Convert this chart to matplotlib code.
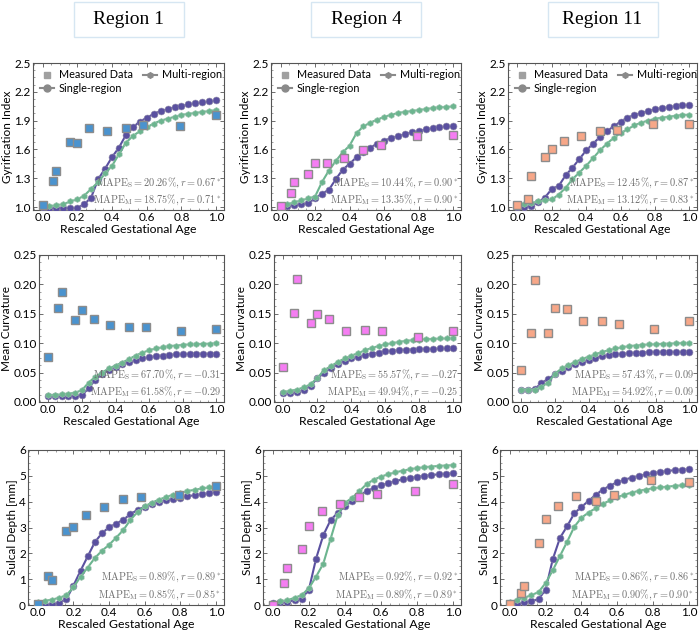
import matplotlib
matplotlib.use("Agg")
from matplotlib import pyplot as plt
from matplotlib.lines import Line2D
from matplotlib.patches import Rectangle
from matplotlib.ticker import AutoMinorLocator
import numpy as np

plt.rcParams["font.family"] = ["Lato", "DejaVu Sans"]
plt.rcParams["mathtext.fontset"] = "cm"

regions = ["Region 1", "Region 4", "Region 11"]

# x grid of model curves and measured ages
t_model = [0.0, 0.04, 0.08, 0.12, 0.16, 0.2, 0.24, 0.28, 0.32, 0.36, 0.4, 0.44, 0.48,
           0.52, 0.56, 0.6, 0.64, 0.68, 0.72, 0.76, 0.8, 0.84, 0.88, 0.92, 0.96, 1.0]
t_meas = [0.0, 0.06, 0.08, 0.16, 0.2, 0.27, 0.37, 0.48, 0.58, 0.79, 1.0]

# Gyrification index
gi_meas_r1 = [1.02, 1.27, 1.38, 1.68, 1.67, 1.82, 1.79, 1.82, 1.85, 1.84, 1.96]
gi_meas_r4 = [1.01, 1.15, 1.26, 1.34, 1.46, 1.46, 1.51, 1.59, 1.65, 1.74, 1.75]
gi_meas_r11 = [1.02, 1.08, 1.32, 1.52, 1.60, 1.69, 1.74, 1.79, 1.80, 1.87, 1.87]
gi_single_r1 = [1.0, 0.99, 0.99, 0.99, 0.99, 0.99, 1.03, 1.10, 1.29, 1.40, 1.52, 1.62, 1.75,
                1.83, 1.89, 1.93, 1.97, 2.0, 2.02, 2.04, 2.05, 2.07, 2.08, 2.09, 2.10, 2.11]
gi_multi_r1 = [1.01, 1.01, 1.02, 1.03, 1.06, 1.08, 1.12, 1.19, 1.26, 1.35, 1.43, 1.55, 1.67,
               1.74, 1.79, 1.83, 1.87, 1.90, 1.92, 1.94, 1.96, 1.97, 1.98, 1.99, 2.00, 2.01]
gi_single_r4 = [1.0, 1.01, 1.02, 1.03, 1.04, 1.09, 1.14, 1.18, 1.29, 1.39, 1.45, 1.52, 1.57,
                1.62, 1.66, 1.69, 1.72, 1.74, 1.76, 1.78, 1.79, 1.81, 1.82, 1.83, 1.84, 1.84]
gi_multi_r4 = [1.01, 1.03, 1.05, 1.07, 1.09, 1.11, 1.26, 1.38, 1.48, 1.57, 1.64, 1.77, 1.84,
               1.88, 1.91, 1.94, 1.96, 1.98, 1.99, 2.00, 2.01, 2.02, 2.03, 2.04, 2.04, 2.05]
gi_single_r11 = [1.0, 1.0, 1.01, 1.05, 1.10, 1.19, 1.22, 1.33, 1.41, 1.50, 1.59, 1.66, 1.73,
                 1.79, 1.84, 1.89, 1.93, 1.96, 1.98, 2.00, 2.02, 2.03, 2.04, 2.05, 2.06, 2.06]
gi_multi_r11 = [1.02, 1.03, 1.04, 1.06, 1.07, 1.08, 1.13, 1.20, 1.29, 1.36, 1.43, 1.51, 1.59,
                1.66, 1.72, 1.77, 1.81, 1.85, 1.88, 1.90, 1.92, 1.93, 1.94, 1.95, 1.96, 1.96]

# Mean curvature
mc_meas_r1 = [0.076, 0.160, 0.187, 0.139, 0.156, 0.141, 0.131, 0.127, 0.128, 0.120, 0.125]
mc_meas_r4 = [0.060, 0.151, 0.210, 0.135, 0.149, 0.141, 0.121, 0.122, 0.121, 0.111, 0.121]
mc_meas_r11 = [0.055, 0.117, 0.208, 0.118, 0.160, 0.159, 0.137, 0.137, 0.132, 0.125, 0.137]
mc_single_r1 = [0.010, 0.010, 0.010, 0.010, 0.010, 0.012, 0.023, 0.038, 0.047, 0.054, 0.059, 0.064, 0.068,
                0.071, 0.074, 0.076, 0.078, 0.079, 0.080, 0.081, 0.081, 0.082, 0.082, 0.082, 0.082, 0.082]
mc_multi_r1 = [0.012, 0.012, 0.013, 0.014, 0.016, 0.020, 0.033, 0.043, 0.050, 0.057, 0.062, 0.067, 0.073,
               0.079, 0.084, 0.088, 0.091, 0.093, 0.095, 0.096, 0.097, 0.098, 0.098, 0.099, 0.099, 0.100]
mc_single_r4 = [0.015, 0.015, 0.017, 0.020, 0.028, 0.040, 0.050, 0.057, 0.064, 0.070, 0.074, 0.077, 0.080,
                0.082, 0.084, 0.086, 0.087, 0.088, 0.089, 0.089, 0.090, 0.090, 0.090, 0.091, 0.091, 0.091]
mc_multi_r4 = [0.017, 0.019, 0.021, 0.025, 0.030, 0.041, 0.054, 0.061, 0.068, 0.074, 0.079, 0.083, 0.088,
               0.092, 0.095, 0.098, 0.100, 0.102, 0.104, 0.105, 0.106, 0.107, 0.107, 0.108, 0.108, 0.108]
mc_single_r11 = [0.021, 0.021, 0.022, 0.032, 0.039, 0.047, 0.053, 0.059, 0.064, 0.068, 0.072, 0.075, 0.078,
                 0.080, 0.081, 0.082, 0.083, 0.084, 0.084, 0.085, 0.085, 0.085, 0.085, 0.085, 0.085, 0.085]
mc_multi_r11 = [0.021, 0.021, 0.021, 0.026, 0.033, 0.048, 0.057, 0.063, 0.068, 0.073, 0.077, 0.081, 0.085,
                0.088, 0.091, 0.093, 0.095, 0.096, 0.097, 0.098, 0.098, 0.099, 0.099, 0.100, 0.100, 0.100]

# Sulcal depth
sd_meas_r1 = [0.05, 1.12, 0.97, 2.88, 3.02, 3.50, 3.80, 4.10, 4.20, 4.27, 4.60]
sd_meas_r4 = [0.0, 0.85, 1.45, 2.15, 3.07, 3.62, 3.92, 4.17, 4.30, 4.42, 4.68]
sd_meas_r11 = [0.02, 0.48, 0.73, 2.40, 3.33, 3.83, 4.22, 4.02, 4.25, 4.82, 4.78]
sd_single_r1 = [0.0, 0.0, 0.03, 0.08, 0.22, 0.75, 1.33, 1.88, 2.43, 2.78, 3.01, 3.15, 3.30,
                3.52, 3.68, 3.80, 3.90, 3.98, 4.05, 4.10, 4.16, 4.21, 4.25, 4.29, 4.33, 4.37]
sd_multi_r1 = [0.12, 0.16, 0.21, 0.28, 0.38, 0.68, 1.10, 1.45, 1.82, 2.10, 2.33, 2.61, 2.90,
               3.30, 3.60, 3.82, 3.96, 4.08, 4.18, 4.27, 4.34, 4.41, 4.46, 4.51, 4.55, 4.58]
sd_single_r4 = [0.08, 0.10, 0.13, 0.18, 0.24, 0.60, 1.80, 2.70, 3.28, 3.57, 3.82, 4.03, 4.23,
                4.40, 4.53, 4.63, 4.72, 4.80, 4.86, 4.91, 4.96, 5.00, 5.03, 5.06, 5.08, 5.10]
sd_multi_r4 = [0.05, 0.15, 0.18, 0.28, 0.38, 0.65, 1.10, 1.60, 2.55, 3.48, 3.95, 4.15, 4.40,
               4.68, 4.85, 4.97, 5.06, 5.13, 5.20, 5.25, 5.30, 5.33, 5.36, 5.38, 5.40, 5.41]
sd_single_r11 = [0.0, 0.02, 0.10, 0.16, 0.22, 0.60, 1.78, 2.60, 3.05, 3.55, 3.80, 4.03, 4.27,
                 4.47, 4.62, 4.75, 4.85, 4.93, 5.00, 5.06, 5.11, 5.15, 5.19, 5.22, 5.24, 5.25]
sd_multi_r11 = [0.10, 0.20, 0.28, 0.38, 0.50, 0.85, 1.35, 1.90, 2.45, 3.03, 3.38, 3.58, 3.75,
                3.92, 4.05, 4.17, 4.27, 4.35, 4.42, 4.47, 4.52, 4.55, 4.58, 4.61, 4.63, 4.65]

meas = [[gi_meas_r1, gi_meas_r4, gi_meas_r11],
        [mc_meas_r1, mc_meas_r4, mc_meas_r11],
        [sd_meas_r1, sd_meas_r4, sd_meas_r11]]
single = [[gi_single_r1, gi_single_r4, gi_single_r11],
          [mc_single_r1, mc_single_r4, mc_single_r11],
          [sd_single_r1, sd_single_r4, sd_single_r11]]
multi = [[gi_multi_r1, gi_multi_r4, gi_multi_r11],
         [mc_multi_r1, mc_multi_r4, mc_multi_r11],
         [sd_multi_r1, sd_multi_r4, sd_multi_r11]]

mape_s = [["20.26", "10.44", "12.45"], ["67.70", "55.57", "57.43"], ["0.89", "0.92", "0.86"]]
r_s = [["0.67^*", "0.90^*", "0.87^*"], ["-0.31", "-0.27", "0.09"], ["0.89^*", "0.92^*", "0.86^*"]]
mape_m = [["18.75", "13.35", "13.12"], ["61.58", "49.94", "54.92"], ["0.85", "0.89", "0.90"]]
r_m = [["0.71^*", "0.90^*", "0.83^*"], ["-0.29", "-0.25", "0.09"], ["0.85^*", "0.89^*", "0.90^*"]]

ylabels = ["Gyrification Index", "Mean Curvature", "Sulcal Depth [mm]"]
ylims = [(0.97, 2.5), (0.0, 0.25), (0.0, 6.0)]
yticks = [[1.0, 1.3, 1.6, 1.9, 2.2, 2.5],
          [0.0, 0.05, 0.10, 0.15, 0.20, 0.25],
          [0, 1, 2, 3, 4, 5, 6]]
yfmt = ["{:.1f}", "{:.2f}", "{:.0f}"]

meas_colors = ["#4a93cf", "#f57df2", "#f7a788"]
c_single = "#5a50a0"
c_multi = "#6cb58f"

W, H = 700, 635
fig = plt.figure(figsize=(7, 6.35), dpi=100)

# axes boxes in pixels (left, right) per row, (top, bottom) per row
lefts = [[33, 271, 508], [39, 274, 512], [28, 263, 500]]
rights = [224, 461, 697]
tb = [(63, 210), (255, 402), (450, 605)]

for i in range(3):
    for j in range(3):
        l, r = lefts[i][j], rights[j]
        t, b = tb[i]
        ax = fig.add_axes([l / W, 1 - b / H, (r - l) / W, (b - t) / H])
        ax.plot(t_model, single[i][j], "-o", color=c_single, lw=1.5, ms=5,
                mec="#8f8aa8", mew=0.4, zorder=3)
        ax.plot(t_model, multi[i][j], "-h", color=c_multi, lw=1.5, ms=4.4,
                mec="#9fc2b0", mew=0.4, zorder=3)
        ax.plot(t_meas, meas[i][j], "s", color=meas_colors[j], ms=5.5,
                mec="#8c8c8c", mew=1.0, ls="none", zorder=4)
        ax.set_xlim(-0.055, 1.045)
        ax.set_ylim(*ylims[i])
        ax.set_xticks([0.0, 0.2, 0.4, 0.6, 0.8, 1.0])
        ax.set_xticklabels(["{:.1f}".format(v) for v in [0.0, 0.2, 0.4, 0.6, 0.8, 1.0]])
        ax.set_yticks(yticks[i])
        ax.set_yticklabels([yfmt[i].format(v) for v in yticks[i]])
        ax.xaxis.set_minor_locator(AutoMinorLocator(4))
        ax.yaxis.set_minor_locator(AutoMinorLocator(4))
        ax.tick_params(which="both", direction="in", top=True, right=True,
                       labelsize=8.5, color="#555555", pad=1.5)
        ax.tick_params(which="major", length=3, width=0.6)
        ax.tick_params(which="minor", length=1.6, width=0.4)
        for s in ax.spines.values():
            s.set_color("#555555")
            s.set_linewidth(0.8)
        ax.set_xlabel("Rescaled Gestational Age", fontsize=8.8, labelpad=1)
        ax.set_ylabel(ylabels[i], fontsize=8.5, labelpad=1)

        txt = (r"$\mathrm{MAPE}_\mathrm{S} = " + mape_s[i][j] + r"\%, r = " + r_s[i][j] + "$\n"
               + r"$\mathrm{MAPE}_\mathrm{M} = " + mape_m[i][j] + r"\%, r = " + r_m[i][j] + "$")
        ax.text(0.985, 0.02, txt, transform=ax.transAxes, ha="right", va="bottom",
                fontsize=7.4, color="#6e6e6e", linespacing=1.3, zorder=5)

        if i == 0:
            handles = [Line2D([], [], marker="s", ls="none", color="#a0a0a0", ms=5),
                       Line2D([], [], marker="o", color="#8a8a8a", lw=1.5, ms=5),
                       Line2D([], [], marker="h", color="#8a8a8a", lw=1.5, ms=4)]
            ax.legend(handles, ["Measured Data", "Single-region", "Multi-region"],
                      loc="upper left", ncol=2, frameon=False, fontsize=7.8,
                      handlelength=1.3, columnspacing=0.9, handletextpad=0.5,
                      borderaxespad=0.3, labelspacing=0.2, borderpad=0.3)

# column title boxes
for j in range(3):
    cx = (lefts[0][j] + rights[j]) / 2
    fig.patches.append(Rectangle(((cx - 55) / W, 1 - 37 / H), 110 / W, 35 / H,
                                 transform=fig.transFigure, facecolor="white",
                                 edgecolor="#d6e6f2", lw=1.0))
    fig.text(cx / W, 1 - 19.5 / H, regions[j], ha="center", va="center",
             fontsize=14, family="Liberation Serif")

fig.savefig("out.png", dpi=100)
